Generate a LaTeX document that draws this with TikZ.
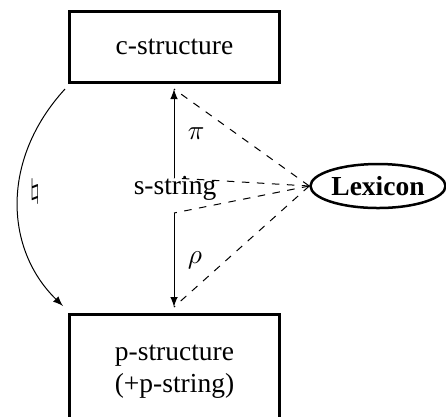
\documentclass[tikz,border=0pt]{standalone}
\usepackage{fontspec}
\setmainfont{Liberation Serif}
\usepackage{tikz}
\usetikzlibrary{calc,positioning,arrows,shapes}
\tikzstyle{level} = [draw,line width=1.2pt,minimum width=83.6pt,inner sep=0pt]
\tikzstyle{lexicon} = [draw,ellipse,line width=1pt,minimum width=54pt,minimum height=17.6pt,inner sep=0pt,font=\fontsize{11}{13}\selectfont\bfseries]
\tikzstyle{mapping} = [->,arrows={-latex}]
\tikzstyle{lexical} = [dashed]

\begin{document}
\begin{tikzpicture}[x=0.4pt,y=-0.4pt,every node/.style={font=\fontsize{11}{13}\selectfont}]
		\useasboundingbox (0,0) rectangle (446,416);
		\node (cs)[level,minimum height=28.4pt] at (174.5,46.5) {c-structure};
		\node (ps)[level,minimum height=46pt,align=center] at (174.5,371.5) {p-structure\\(+p-string)};
		\node (ss) at (175,188) {s-string};
		\node (lex)[lexicon] at (378,186) {Lexicon};

		\coordinate (piTop) at (174,89);
		\coordinate (piBot) at (174,178);
		\coordinate (rhoTop) at (174,213);
		\coordinate (rhoBot) at (174,307);
		\coordinate (natTop) at (65,89);
		\coordinate (natBot) at (63,306);

		\draw[mapping] (piBot) -- node[right=2pt] {$\pi$} (piTop);
		\draw[mapping] (rhoTop) -- node[right=2pt] {$\rho$} (rhoBot);
		\draw[mapping] (natTop) .. controls (0,160) and (5,250) .. node[right=1pt,pos=0.45] {$\natural$} (natBot);

		\draw[lexical] (lex.west) -- (piTop);
		\draw[lexical] (lex.west) -- (piBot);
		\draw[lexical] (lex.west) -- (rhoTop);
		\draw[lexical] (lex.west) -- (rhoBot);
	\end{tikzpicture}
\end{document}
